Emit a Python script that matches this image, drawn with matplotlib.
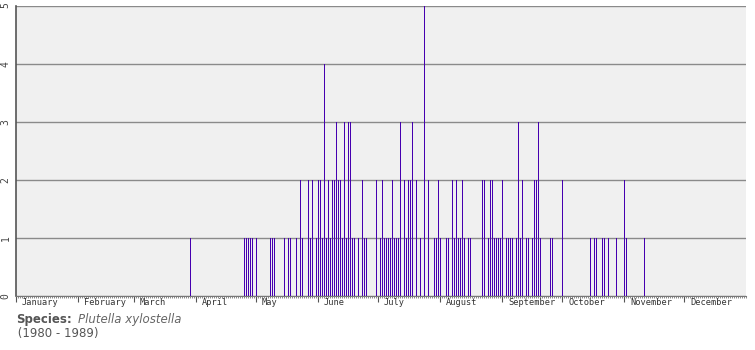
import matplotlib
matplotlib.use("Agg")
import matplotlib.pyplot as plt
from matplotlib.ticker import FixedLocator, MultipleLocator

# Day of year (1-based) and number of records
days = [88,
        115, 116, 117, 118, 119, 121,
        128, 129, 130,
        135, 137, 138, 141,
        143, 144, 147, 148, 149,
        151, 152, 153, 154, 155, 156, 157, 158, 159, 160, 161, 162, 163, 164,
        165, 166, 167, 168, 169, 170,
        172, 174, 175, 176,
        181, 183, 184, 185, 186, 187, 188, 189, 190, 191, 192,
        193, 195, 196, 197, 198, 199, 201, 203, 205, 207,
        210, 211, 212, 213, 216, 217, 219, 220, 221, 222, 223, 224, 225, 227, 228,
        234, 235, 237, 238, 239, 240, 241, 242, 243, 244, 246, 247, 248, 249,
        251, 252, 253, 254, 256, 257, 259, 260, 261, 262, 263, 268, 269, 274,
        288, 290, 291, 294, 295, 297, 301, 305, 306, 315]
counts = [1,
          1, 1, 1, 1, 1, 1,
          1, 1, 1,
          1, 1, 1, 1,
          2, 1, 2, 1, 2,
          1, 2, 2, 1, 4, 1, 2, 1, 2, 2, 3, 2, 2, 1,
          3, 1, 3, 3, 1, 1,
          1, 2, 1, 1,
          2, 1, 2, 1, 1, 1, 1, 2, 1, 1, 1,
          3, 2, 1, 2, 2, 3, 2, 1, 5, 2,
          1, 1, 2, 1, 1, 1, 2, 1, 2, 1, 1, 2, 1, 1, 1,
          2, 2, 1, 2, 2, 1, 1, 1, 1, 2, 1, 1, 1, 1,
          1, 3, 1, 2, 1, 1, 1, 2, 2, 3, 1, 1, 1, 2,
          1, 1, 1, 1, 1, 1, 1, 2, 1, 1]

months = ["January", "February", "March", "April", "May", "June", "July",
          "August", "September", "October", "November", "December"]
month_starts = [0, 31, 59, 90, 120, 151, 181, 212, 243, 273, 304, 334]
yticks = [0, 1, 2, 3, 4, 5]

species_label = "Species:"
species_name = "Plutella xylostella"
period = " (1980 - 1989)"

W, H = 755, 350
fig = plt.figure(figsize=(W / 100, H / 100), dpi=100)
fig.patch.set_facecolor("white")
ax = fig.add_axes([16 / W, 1 - 296 / H, 730 / W, (296 - 5.5) / H])
ax.set_facecolor("#f0f0f0")

ax.bar([d - 1 for d in days], counts, width=0.5, align="edge",
       color="#4600b0", linewidth=0, antialiased=False, zorder=3)

ax.set_xlim(0, 365)
ax.set_ylim(0, 5)

# grid
ax.set_yticks(yticks)
ax.set_yticklabels([str(v) for v in yticks], rotation=90, va="center",
                   fontsize=7, color="#444444", family="DejaVu Sans Mono")
ax.tick_params(axis="y", length=0, pad=4)
ax.yaxis.grid(True, color="#8a8a8a", linewidth=1.0, zorder=1)
ax.set_axisbelow(True)

# x axis: month ticks and daily minor ticks
ax.xaxis.set_major_locator(FixedLocator(month_starts))
ax.xaxis.set_minor_locator(MultipleLocator(1))
ax.set_xticklabels([])
ax.tick_params(axis="x", which="major", length=4, width=0.8, color="#555555")
ax.tick_params(axis="x", which="minor", length=1.5, width=0.6, color="#777777")
for m, s in zip(months, month_starts):
    ax.text(s + 3, -0.006, m, transform=ax.get_xaxis_transform(),
            ha="left", va="top", fontsize=6.2, color="#333333",
            family="DejaVu Sans Mono")

for side in ["top", "right"]:
    ax.spines[side].set_visible(False)
ax.spines["left"].set_color("#555555")
ax.spines["left"].set_linewidth(1.2)
ax.spines["bottom"].set_color("#777777")
ax.spines["bottom"].set_linewidth(0.8)

# caption
fig.text(16 / W, 1 - 323.5 / H, species_label, fontsize=8.5,
         fontweight="bold", color="#555555", family="DejaVu Sans",
         va="baseline", ha="left")
fig.text(78 / W, 1 - 323.5 / H, species_name, fontsize=8.5, style="italic",
         color="#666666", family="DejaVu Sans", va="baseline", ha="left")
fig.text(14 / W, 1 - 337.5 / H, period, fontsize=8.5, color="#555555",
         family="DejaVu Sans", va="baseline", ha="left")

fig.savefig("out.png", dpi=100)
